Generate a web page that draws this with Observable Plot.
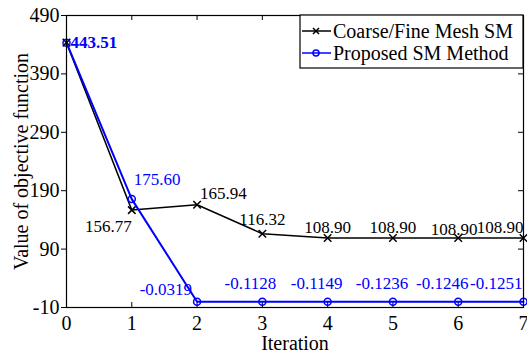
<!DOCTYPE html>
<html><head><meta charset="utf-8">
<script src="https://cdn.jsdelivr.net/npm/d3@7"></script>
<script src="https://cdn.jsdelivr.net/npm/@observablehq/plot@0.6"></script>
<style>body{margin:0;background:#fff} svg{display:block}</style>
</head><body><div id="chart"></div>
<script>
// Objective function value per iteration for the two space-mapping runs
const iterations = [0, 1, 2, 3, 4, 5, 6, 7];
const coarseFine = [443.51, 156.77, 165.94, 116.32, 108.90, 108.90, 108.90, 108.90];
const proposed = [443.51, 175.60, -0.0319, -0.1128, -0.1149, -0.1236, -0.1246, -0.1251];
const yTicks = [-10, 90, 190, 290, 390, 490];
const xTicks = [0, 1, 2, 3, 4, 5, 6, 7];
const seriesNames = ["Coarse/Fine Mesh SM", "Proposed SM Method"];

const W = 527, H = 352;
const M = {top: 15, right: 4, bottom: 45, left: 66};
const frameH = H - M.top - M.bottom;
const frameW = W - M.left - M.right;
const BLUE = "#0000ff";
const FONT = "'Liberation Serif', 'Times New Roman', serif";
const TICK = 5;
const AXIS_FS = 20, LABEL_FS = 17;

const coarseRows = iterations.map((x, i) => ({x, y: coarseFine[i]}));
const propRows = iterations.map((x, i) => ({x, y: proposed[i]}));
const fmtC = v => v.toFixed(2);
const fmtP = v => Math.abs(v) < 1 ? v.toFixed(4) : v.toFixed(2);

// one value label next to the point at index i
const label = (rows, i, fmt, color, opts) =>
  Plot.text([rows[i]], {x: "x", y: "y", text: d => fmt(d.y), fill: color,
    fontSize: LABEL_FS, stroke: null, ...opts});

const plot = Plot.plot({
  width: W, height: H,
  marginTop: M.top, marginRight: M.right, marginBottom: M.bottom, marginLeft: M.left,
  style: {fontFamily: FONT, background: "#fff", color: "#000"},
  x: {domain: [0, 7]},
  y: {domain: [-10, 490]},
  marks: [
    // inward ticks on the bottom, top and right; outward on the left
    Plot.ruleX(xTicks, {x: d => d, insetTop: frameH - TICK, stroke: "#000"}),
    Plot.ruleX(xTicks, {x: d => d, insetBottom: frameH - TICK, stroke: "#000"}),
    Plot.ruleY(yTicks, {y: d => d, insetLeft: frameW - TICK, stroke: "#000"}),
    Plot.axisX(xTicks, {tickSize: 0, tickPadding: 8, fontSize: AXIS_FS, tickFormat: d => String(d),
      label: "Iteration", labelAnchor: "center", labelArrow: "none", labelOffset: 42}),
    Plot.axisY(yTicks, {tickSize: TICK, tickPadding: 2, fontSize: AXIS_FS, tickFormat: d => String(d),
      label: "Value of objective function", labelAnchor: "center", labelArrow: "none", labelOffset: 53}),
    Plot.line(coarseRows, {x: "x", y: "y", stroke: "#000", strokeWidth: 1.5}),
    Plot.dot(coarseRows, {x: "x", y: "y", symbol: "times", r: 3.5, stroke: "#000", strokeWidth: 1.5}),
    Plot.line(propRows, {x: "x", y: "y", stroke: BLUE, strokeWidth: 2}),
    Plot.dot(propRows, {x: "x", y: "y", symbol: "circle", r: 3.5, stroke: BLUE, strokeWidth: 1.5, fill: "none"}),
    Plot.frame({stroke: "#000", strokeWidth: 1.2}),
    // value labels: first the Coarse/Fine run
    label(coarseRows, 1, fmtC, "#000", {textAnchor: "end", dx: 0, dy: 16}),
    label(coarseRows, 2, fmtC, "#000", {textAnchor: "start", dx: 3, dy: -11}),
    label(coarseRows, 3, fmtC, "#000", {dy: -14}),
    label(coarseRows, 4, fmtC, "#000", {dy: -11}),
    label(coarseRows, 5, fmtC, "#000", {dy: -11}),
    label(coarseRows, 6, fmtC, "#000", {dx: -4, dy: -9}),
    label(coarseRows, 7, fmtC, "#000", {textAnchor: "end", dx: 0, dy: -11}),
    // then the proposed method
    label(propRows, 0, fmtP, BLUE, {textAnchor: "start", dx: 4, fontWeight: "bold"}),
    label(propRows, 1, fmtP, BLUE, {textAnchor: "start", dx: 2, dy: -20}),
    label(propRows, 2, fmtP, BLUE, {textAnchor: "end", dx: -5, dy: -12}),
    label(propRows, 3, fmtP, BLUE, {dx: -12, dy: -18}),
    label(propRows, 4, fmtP, BLUE, {dx: -11, dy: -18}),
    label(propRows, 5, fmtP, BLUE, {dx: -11, dy: -18}),
    label(propRows, 6, fmtP, BLUE, {dx: -16, dy: -18}),
    label(propRows, 7, fmtP, BLUE, {textAnchor: "end", dx: -1, dy: -18})
  ]
});

// legend box in the upper right corner of the frame
const svg = d3.select(plot);
const lg = svg.append("g").attr("font-family", FONT).attr("font-size", AXIS_FS)
  .attr("text-anchor", "start");
const bx = 300, by = M.top, bw = W - M.right - bx, bh = 53;
lg.append("rect").attr("x", bx).attr("y", by).attr("width", bw).attr("height", bh)
  .attr("fill", "#fff").attr("stroke", "#000").attr("stroke-width", 1.2);
const rows = [
  {name: seriesNames[0], color: "#000", y: by + 16, sym: "times"},
  {name: seriesNames[1], color: BLUE, y: by + 38, sym: "circle"}
];
rows.forEach(r => {
  lg.append("line").attr("x1", bx + 2).attr("x2", bx + 31).attr("y1", r.y).attr("y2", r.y)
    .attr("stroke", r.color).attr("stroke-width", 1.5);
  if (r.sym === "times") {
    lg.append("path").attr("transform", `translate(${bx + 16},${r.y})`)
      .attr("d", "M-3,-3L3,3M-3,3L3,-3").attr("stroke", r.color).attr("stroke-width", 1.5);
  } else {
    lg.append("circle").attr("cx", bx + 16).attr("cy", r.y).attr("r", 3)
      .attr("fill", "none").attr("stroke", r.color).attr("stroke-width", 1.5);
  }
  lg.append("text").attr("x", bx + 33).attr("y", r.y).attr("dy", "0.35em")
    .attr("fill", "#000").attr("text-anchor", "start").text(r.name);
});

document.getElementById("chart").append(plot);
</script>
</body></html>
